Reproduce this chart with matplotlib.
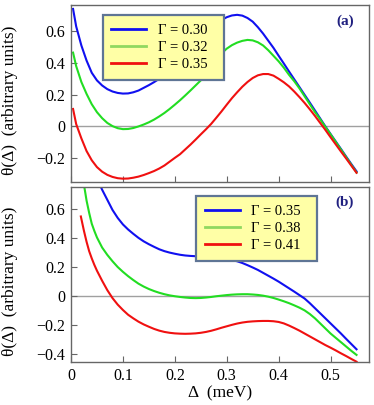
import numpy as np
import matplotlib
matplotlib.use('Agg')
import matplotlib.pyplot as plt

plt.rcParams['font.family'] = ['Liberation Serif', 'DejaVu Serif']

# ------------------------------------------------------------------------
# Panel (a): theta(Delta) for three Gamma values
delta_a = [0.004, 0.01, 0.02, 0.03, 0.04, 0.05, 0.06, 0.07, 0.08, 0.09, 0.10,
           0.11, 0.12, 0.13, 0.14, 0.15, 0.16, 0.17, 0.18, 0.19, 0.20,
           0.21, 0.22, 0.23, 0.24, 0.25, 0.26, 0.27, 0.28, 0.29, 0.30,
           0.31, 0.32, 0.33, 0.34, 0.35, 0.36, 0.37, 0.38, 0.39, 0.40,
           0.41, 0.42, 0.43, 0.44, 0.45, 0.46, 0.47, 0.48, 0.49, 0.50,
           0.51, 0.52, 0.53, 0.54, 0.55]
theta_a_030 = [0.74, 0.63, 0.51, 0.415, 0.338, 0.29, 0.258, 0.235, 0.22, 0.211, 0.207,
               0.208, 0.215, 0.226, 0.243, 0.26, 0.279, 0.30, 0.33, 0.36, 0.39,
               0.425, 0.46, 0.495, 0.53, 0.565, 0.595, 0.625, 0.65, 0.67, 0.688,
               0.699, 0.703, 0.698, 0.683, 0.66, 0.625, 0.585, 0.54, 0.495, 0.445,
               0.396, 0.346, 0.297, 0.248, 0.199, 0.15, 0.1, 0.05, 0.0, -0.048,
               -0.095, -0.142, -0.19, -0.237, -0.283]
theta_a_032 = [0.465, 0.38, 0.28, 0.205, 0.14, 0.09, 0.052, 0.022, 0.002, -0.011, -0.017,
               -0.016, -0.01, 0.0, 0.012, 0.026, 0.043, 0.063, 0.085, 0.11, 0.137,
               0.165, 0.195, 0.226, 0.258, 0.29, 0.33, 0.375, 0.42, 0.46, 0.49,
               0.512, 0.528, 0.539, 0.545, 0.542, 0.53, 0.51, 0.48, 0.445, 0.41,
               0.37, 0.325, 0.285, 0.24, 0.19, 0.14, 0.09, 0.045, -0.003, -0.05,
               -0.098, -0.146, -0.194, -0.242, -0.29]
theta_a_035 = [0.11, 0.015, -0.075, -0.155, -0.213, -0.256, -0.285, -0.305, -0.318, -0.326, -0.329,
               -0.328, -0.323, -0.316, -0.306, -0.294, -0.281, -0.265, -0.246, -0.222, -0.198,
               -0.175, -0.145, -0.115, -0.083, -0.05, -0.018, 0.016, 0.055, 0.095, 0.137,
               0.178, 0.215, 0.25, 0.28, 0.305, 0.322, 0.33, 0.33, 0.32, 0.30,
               0.278, 0.252, 0.22, 0.185, 0.148, 0.108, 0.066, 0.022, -0.022, -0.068,
               -0.113, -0.158, -0.202, -0.247, -0.292]
labels_a = ['Γ = 0.30', 'Γ = 0.32', 'Γ = 0.35']

# Panel (b)
delta_b_035 = [0.045, 0.05, 0.06, 0.07, 0.08, 0.09, 0.10,
               0.11, 0.12, 0.13, 0.14, 0.15, 0.16, 0.17, 0.18, 0.19, 0.20,
               0.21, 0.22, 0.23, 0.24, 0.25, 0.26, 0.27, 0.28, 0.29, 0.30,
               0.31, 0.32, 0.33, 0.34, 0.35, 0.36, 0.37, 0.38, 0.39, 0.40,
               0.41, 0.42, 0.43, 0.44, 0.45, 0.46, 0.47, 0.48, 0.49, 0.50,
               0.51, 0.52, 0.53, 0.54, 0.55]
theta_b_035 = [0.87, 0.815, 0.735, 0.665, 0.595, 0.54, 0.495,
               0.46, 0.43, 0.402, 0.378, 0.358, 0.34, 0.323, 0.31, 0.3, 0.292,
               0.285, 0.28, 0.277, 0.275, 0.272, 0.27, 0.267, 0.263, 0.259, 0.254,
               0.248, 0.24, 0.228, 0.213, 0.197, 0.18, 0.16, 0.14, 0.12, 0.099,
               0.076, 0.053, 0.03, 0.006, -0.018, -0.05, -0.085, -0.12, -0.155, -0.19,
               -0.225, -0.26, -0.297, -0.333, -0.369]
delta_b_038 = [0.02, 0.025, 0.03, 0.035, 0.04, 0.045, 0.05, 0.06, 0.07, 0.08, 0.09, 0.10,
               0.11, 0.12, 0.13, 0.14, 0.15, 0.16, 0.17, 0.18, 0.19, 0.20,
               0.21, 0.22, 0.23, 0.24, 0.25, 0.26, 0.27, 0.28, 0.29, 0.30,
               0.31, 0.32, 0.33, 0.34, 0.35, 0.36, 0.37, 0.38, 0.39, 0.40,
               0.41, 0.42, 0.43, 0.44, 0.45, 0.46, 0.47, 0.48, 0.49, 0.50,
               0.51, 0.52, 0.53, 0.54, 0.55]
theta_b_038 = [0.85, 0.77, 0.66, 0.575, 0.5, 0.45, 0.405, 0.335, 0.284, 0.24, 0.2, 0.167,
               0.137, 0.11, 0.085, 0.065, 0.048, 0.034, 0.022, 0.012, 0.004, -0.002,
               -0.007, -0.011, -0.014, -0.015, -0.014, -0.011, -0.007, -0.002, 0.002, 0.006,
               0.009, 0.011, 0.012, 0.012, 0.01, 0.007, 0.002, -0.005, -0.014, -0.025,
               -0.037, -0.05, -0.065, -0.081, -0.1, -0.125, -0.155, -0.19, -0.225, -0.26,
               -0.29, -0.32, -0.35, -0.38, -0.408]
delta_b_041 = [0.019, 0.025, 0.03, 0.035, 0.04, 0.045, 0.05, 0.06, 0.07, 0.08, 0.09, 0.10,
               0.11, 0.12, 0.13, 0.14, 0.15, 0.16, 0.17, 0.18, 0.19, 0.20,
               0.21, 0.22, 0.23, 0.24, 0.25, 0.26, 0.27, 0.28, 0.29, 0.30,
               0.31, 0.32, 0.33, 0.34, 0.35, 0.36, 0.37, 0.38, 0.39, 0.40,
               0.41, 0.42, 0.43, 0.44, 0.45, 0.46, 0.47, 0.48, 0.49, 0.50,
               0.51, 0.52, 0.53, 0.54, 0.55]
theta_b_041 = [0.55, 0.45, 0.375, 0.31, 0.26, 0.215, 0.175, 0.105, 0.04, -0.015, -0.06, -0.097,
               -0.13, -0.155, -0.178, -0.197, -0.213, -0.228, -0.24, -0.249, -0.255, -0.259,
               -0.261, -0.262, -0.261, -0.259, -0.255, -0.249, -0.241, -0.231, -0.22, -0.21,
               -0.2, -0.191, -0.184, -0.179, -0.176, -0.174, -0.173, -0.173, -0.175, -0.18,
               -0.19, -0.205, -0.222, -0.24, -0.26, -0.28, -0.3, -0.32, -0.34, -0.358,
               -0.377, -0.397, -0.416, -0.436, -0.455]
labels_b = ['Γ = 0.35', 'Γ = 0.38', 'Γ = 0.41']

x_ticks = [0, 0.1, 0.2, 0.3, 0.4, 0.5]
x_ticklabels = ['0', '0.1', '0.2', '0.3', '0.4', '0.5']
y_ticks_a = [-0.2, 0, 0.2, 0.4, 0.6]
y_ticks_b = [-0.4, -0.2, 0, 0.2, 0.4, 0.6]
# ------------------------------------------------------------------------

colors = ['#1010f0', '#22dd22', '#f01010']
legend_colors = ['#1010f0', '#90d860', '#f01010']
frame_col = '#666666'


def fmt(v):
    if v == 0:
        return '0'
    return ('%.1f' % v).replace('-', '\u2212')


fig = plt.figure(figsize=(3.74, 4.05), dpi=100)
ax1 = fig.add_axes([0.1898, 0.5506, 0.7968, 0.4371])
ax2 = fig.add_axes([0.1898, 0.1062, 0.7968, 0.4321])

panels = [
    (ax1, [(delta_a, theta_a_030), (delta_a, theta_a_032), (delta_a, theta_a_035)],
     labels_a, (-0.35, 0.765), y_ticks_a, '(a)', (0.106, 0.944)),
    (ax2, [(delta_b_035, theta_b_035), (delta_b_038, theta_b_038), (delta_b_041, theta_b_041)],
     labels_b, (-0.457, 0.754), y_ticks_b, '(b)', (0.419, 0.949)),
]

for ax, series, labels, ylim, yticks, tag, leg_pos in panels:
    ax.axhline(0, color='#a0a0a0', linewidth=1.0, zorder=1)
    for (xs, ys), c in zip(series, colors):
        ax.plot(xs, ys, color=c, linewidth=1.5, zorder=2, solid_joinstyle='round')

    ax.set_xlim(0, 0.574)
    ax.set_ylim(*ylim)
    ax.set_xticks(x_ticks)
    ax.set_yticks(yticks)
    ax.set_yticklabels([fmt(v) for v in yticks], fontsize=11.5)
    ax.tick_params(direction='in', length=4, width=0.8, color=frame_col, pad=4)
    for s in ax.spines.values():
        s.set_color(frame_col)
        s.set_linewidth(1.0)

    handles = [plt.Line2D([], [], color=c, linewidth=2) for c in legend_colors]
    leg = ax.legend(handles, [l + '  ' for l in labels], loc='upper left',
                    bbox_to_anchor=leg_pos, borderaxespad=0, fontsize=10.5,
                    handlelength=2.4, handletextpad=0.8, borderpad=0.6,
                    labelspacing=0.28, fancybox=False, framealpha=1)
    leg.get_frame().set_facecolor('#ffffa6')
    leg.get_frame().set_edgecolor('#5f7595')
    leg.get_frame().set_linewidth(1.6)

    ax.text(0.919, 0.91, tag, transform=ax.transAxes, ha='center', va='center',
            fontsize=11, fontweight='bold', color='#202080')

    ax.set_ylabel('θ(Δ)  (arbitrary units)', fontsize=12.5)
    ax.yaxis.set_label_coords(-0.178, 0.463)

ax1.set_xticklabels([])
ax2.set_xticklabels(x_ticklabels, fontsize=11.5)
ax2.set_xlabel('Δ  (meV)', fontsize=12.5)
ax2.xaxis.set_label_coords(0.5, -0.135)

fig.savefig('out.png', dpi=100)
